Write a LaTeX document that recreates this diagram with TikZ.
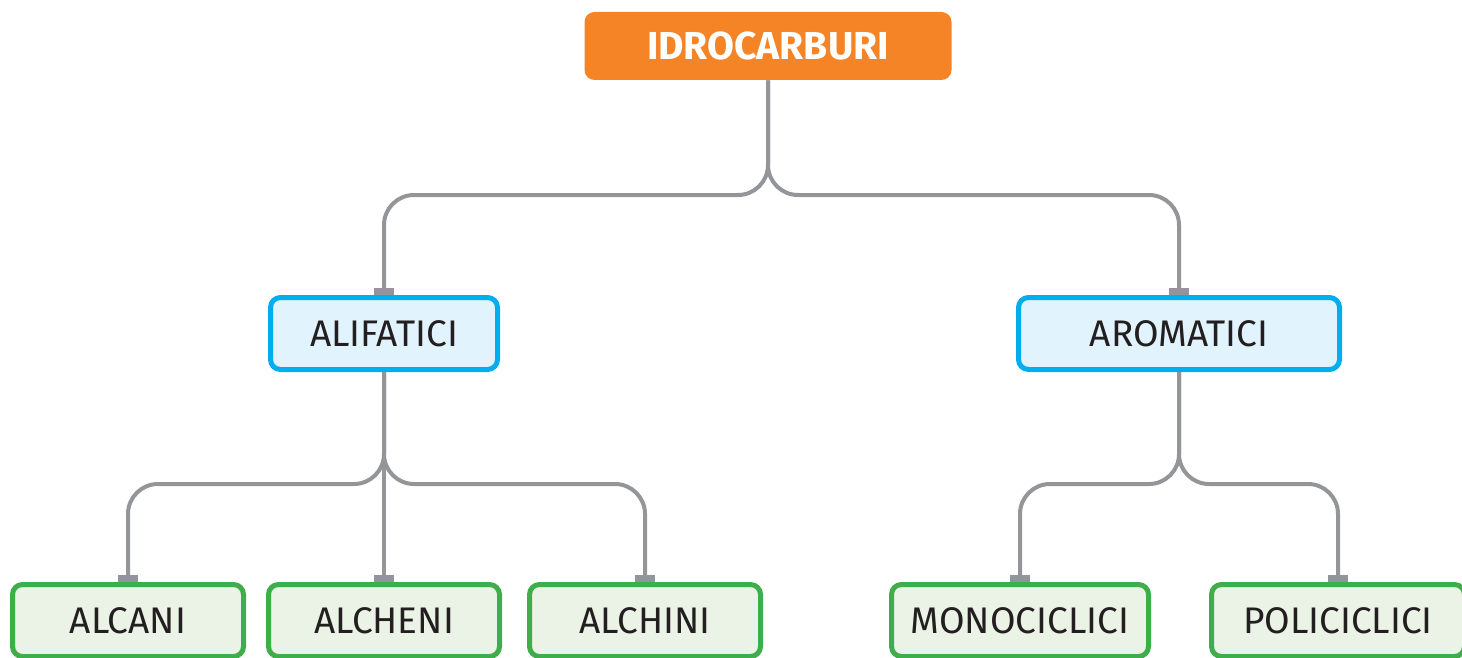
\documentclass[tikz,border=0pt]{standalone}
\usepackage{fontspec}
\setmainfont{Fira Sans}
\usetikzlibrary{arrows.meta}
\definecolor{orng}{HTML}{F58426}
\definecolor{bluebd}{HTML}{00AEEF}
\definecolor{bluefl}{HTML}{E1F3FC}
\definecolor{greenbd}{HTML}{3DAE49}
\definecolor{greenfl}{HTML}{EBF3E6}
\definecolor{conngray}{HTML}{939598}
\definecolor{txt}{HTML}{231F20}
\tikzset{
  topbox/.style={rectangle, rounded corners=5pt, fill=orng, text=white,
    font=\fontsize{19.5}{22}\selectfont\bfseries, minimum width=183.5pt, minimum height=34pt, inner sep=0pt},
  midbox/.style={rectangle, rounded corners=5pt, draw=bluebd, fill=bluefl, line width=2.5pt, text=txt,
    font=\fontsize{18.5}{22}\selectfont, minimum height=36pt, inner sep=0pt},
  leafbox/.style={rectangle, rounded corners=5pt, draw=greenbd, fill=greenfl, line width=2.5pt, text=txt,
    font=\fontsize{18.5}{22}\selectfont, minimum height=36pt, inner sep=0pt},
  conn/.style={draw=conngray, line width=2pt, rounded corners=15pt,
    -{Rectangle[length=3.5pt,width=10pt]}}
}
\begin{document}
\begin{tikzpicture}[x=0.5pt,y=-0.5pt]
\useasboundingbox (0,0) rectangle (1462,658);
\node[topbox] (idro) at (768,46) {IDROCARBURI};
\node[midbox, minimum width=113.5pt] (ali) at (384,333.5) {ALIFATICI};
\node[midbox, minimum width=160.5pt] (aro) at (1179,333.5) {AROMATICI};
\node[leafbox, minimum width=115.5pt] (alcani) at (128,620.5) {ALCANI};
\node[leafbox, minimum width=115.5pt] (alcheni) at (384,620.5) {ALCHENI};
\node[leafbox, minimum width=115.5pt] (alchini) at (645,620.5) {ALCHINI};
\node[leafbox, minimum width=128.5pt] (mono) at (1020,620.5) {MONOCICLICI};
\node[leafbox, minimum width=126.5pt] (poli) at (1338,620.5) {POLICICLICI};
\coordinate (b1) at (768,195);
\coordinate (b2) at (384,484);
\coordinate (b3) at (1179,484);
\draw[conn] (idro.south) -- (b1) -| (ali.north);
\draw[conn] (idro.south) -- (b1) -| (aro.north);
\draw[conn] (ali.south) -- (b2) -| (alcani.north);
\draw[conn] (ali.south) -- (alcheni.north);
\draw[conn] (ali.south) -- (b2) -| (alchini.north);
\draw[conn] (aro.south) -- (b3) -| (mono.north);
\draw[conn] (aro.south) -- (b3) -| (poli.north);
\end{tikzpicture}
\end{document}
